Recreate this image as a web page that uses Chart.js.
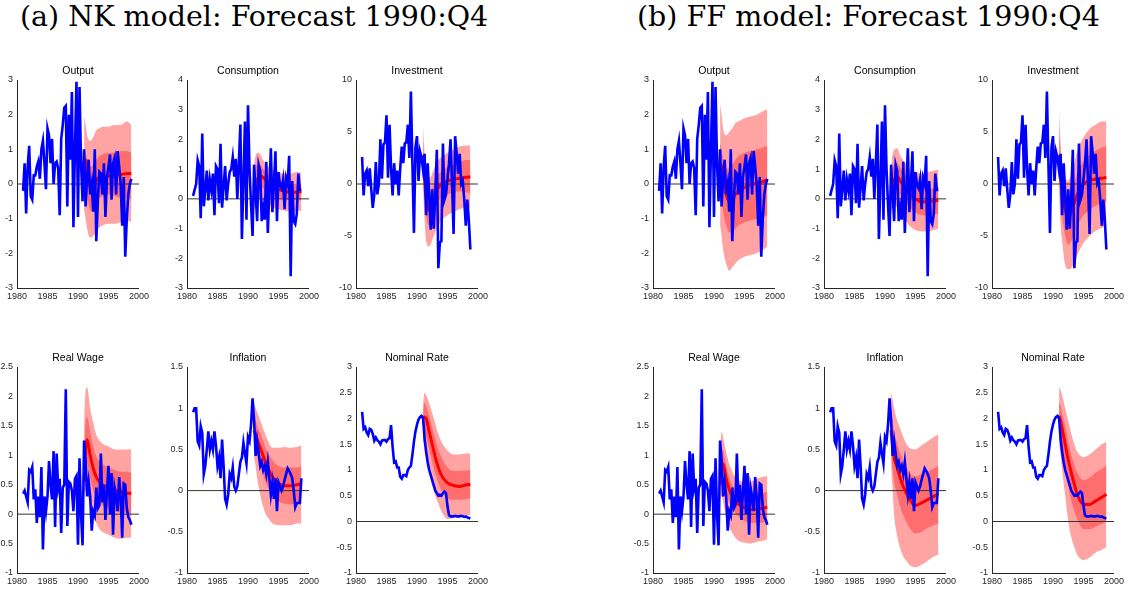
<!DOCTYPE html>
<html>
<head>
<meta charset="utf-8">
<script src="https://cdn.jsdelivr.net/npm/chart.js@4/dist/chart.umd.min.js"></script>
<style>
body { margin: 0; background: #fff; width: 1136px; height: 597px; position: relative; overflow: hidden; }
.hd { position: absolute; top: 0px; font-family: 'DejaVu Serif', serif; font-size: 28.5px; color: #000; white-space: nowrap; }
canvas { position: absolute; }
</style>
</head>
<body>
<div class="hd" style="left:20px">(a) NK model: Forecast 1990:Q4</div>
<div class="hd" style="left:637px">(b) FF model: Forecast 1990:Q4</div>
<script>
// quarterly observations 1981:Q1 - 1998:Q4
const quarters = [];
for (let y = 1981; y < 1999; y += 0.25) quarters.push(y);
const fcDates = [1991, 1991.25, 1991.5, 1992, 1992.5, 1993, 1993.5, 1994, 1995, 1996, 1997, 1998, 1998.75];

// actual data (blue)
const outputData = [-0.2, 0.6, -0.85, 0.5, 1.1, -0.35, -0.45, 0.25, 0.25, 0.5, 0.65, 0.15,
  1.0, 1.25, 0.6, -0.15, 1.6, 1.4, 0.6, 1.3, 0.0, 0.6, 0.65, 0.45,
  -0.9, 1.3, 1.7, 2.2, 2.25, -0.65, 2.0, 0.7, 2.65, -1.25, 1.0, 2.95,
  -0.95, 2.8, 0.6, -0.5, 1.0, -0.65, 0.2, 0.7, -0.3, 0.0, -0.8, 1.0,
  -1.65, -0.5, 0.35, 0.3, -0.3, 0.6, -0.95, 0.2, 0.5, 0.85, -0.45, 0.6,
  0.75, -0.3, 0.95, 0.5, 0.0, -1.2, 0.2, -2.1, -1.0, -0.3, 0.0, 0.15];
const consData = [0.1, 0.3, 0.5, 1.3, 1.1, -0.65, 2.2, -0.25, 0.3, 0.95, -0.05, 0.65,
  0.3, 0.85, -0.55, 1.1, 1.0, -0.15, 1.85, -0.3, 0.4, 1.1, -0.05, 0.5,
  0.9, 1.0, 1.4, 0.75, 1.35, 0.0, 1.2, 2.5, -1.35, 0.6, 2.6, -0.7,
  3.15, 1.0, -0.2, -1.25, 1.15, 0.2, -0.75, 1.15, 0.95, -0.75, -0.3, -0.7,
  1.25, -1.15, 0.3, 1.7, -0.45, 0.5, 1.6, -0.75, 0.9, 0.45, 0.35, 0.65,
  -0.35, 0.7, 0.5, 1.45, -2.6, 0.6, -0.75, -0.85, -0.5, 0.85, 0.3, 0.3];
const invData = [2.6, -1.1, 1.0, 1.3, -0.2, 1.5, -0.5, -2.3, -1.0, 2.1, -1.0, 0.0,
  4.3, 0.5, 3.8, 4.0, 6.6, 0.6, 5.7, 1.5, -1.1, 2.0, 0.0, 1.3,
  -1.1, 1.5, 3.6, 2.0, 3.9, 4.0, 5.7, 2.5, 8.9, 2.0, -4.7, 3.5,
  4.6, 0.3, 3.1, 2.5, 1.3, 2.9, -3.0, 2.0, -1.0, -4.4, -0.5, -4.3,
  -1.0, 3.3, -8.1, -5.6, -5.5, 3.9, -1.5, -1.0, 0.5, 2.0, 4.3, 0.0,
  -4.8, 4.6, 3.0, 1.0, 2.9, 0.0, 0.3, -1.5, -4.0, -1.5, -3.5, -6.3];
const wageData = [0.35, 0.4, 0.3, 0.2, 0.75, 0.72, 0.8, 0.25, 0.42, -0.15, 0.3, -0.05,
  0.8, -0.6, 0.3, 0.05, 0.3, 0.9, 0.5, 0.25, 1.07, -0.22, 1.03, 0.45,
  0.6, -0.32, 0.45, 0.5, 2.12, -0.2, 0.55, 0.52, 0.4, 0.05, 0.6, 0.65,
  -0.52, 0.95, 0.0, -0.53, 1.25, 0.9, 0.3, 0.55, 0.3, -0.28, 0.05, -0.02,
  0.45, 0.1, 0.15, 1.03, 0.2, 0.5, -0.1, 0.4, 0.82, 0.0, 0.7, -0.35,
  0.45, 0.3, 0.05, 0.63, 0.3, -0.4, 0.52, 0.5, 0.1, -0.05, -0.1, -0.18];
const inflData = [0.95, 1.0, 1.0, 0.6, 0.55, 0.78, 0.7, 0.2, 0.3, 0.5, 0.72, 0.5,
  0.6, 0.5, 0.72, 0.55, 0.3, 0.4, 0.15, 0.62, 0.3, -0.1, -0.17, -0.05,
  0.2, 0.15, 0.28, 0.05, 0.0, 0.05, 0.2, 0.35, 0.4, 0.58, 0.45, 0.33,
  0.65, 0.6, 0.8, 1.12, 0.85, 0.42, 0.6, 0.45, 0.3, 0.35, 0.25, 0.3,
  0.2, 0.35, 0.15, -0.05, 0.1, -0.1, 0.15, -0.25, 0.1, 0.05, 0.0, 0.05,
  0.13, 0.2, 0.27, 0.24, 0.2, 0.15, 0.0, -0.2, -0.15, -0.15, -0.15, 0.15];
const rateData = [2.13, 1.8, 1.83, 1.73, 1.68, 1.8, 1.78, 1.7, 1.57, 1.63, 1.58, 1.55,
  1.5, 1.57, 1.58, 1.58, 1.55, 1.6, 1.62, 1.87, 1.45, 1.15, 1.17, 1.05,
  1.05, 0.87, 0.83, 0.9, 0.9, 0.88, 1.0, 1.05, 1.08, 1.3, 1.55, 1.75,
  1.88, 1.98, 2.03, 2.05, 2.0, 1.6, 1.35, 1.15, 1.0, 0.9, 0.8, 0.7,
  0.6, 0.55, 0.5, 0.52, 0.5, 0.55, 0.58, 0.55, 0.3, 0.12, 0.1, 0.1,
  0.1, 0.11, 0.1, 0.1, 0.1, 0.11, 0.1, 0.09, 0.1, 0.08, 0.07, 0.06];

// NK forecasts: mean, inner band, outer band
const nkOutputMean  = [0.65, 0.7, 0.4, -0.1, -0.1, 0.12, 0.18, 0.2, 0.23, 0.26, 0.27, 0.3, 0.3];
const nkOutputInLo  = [0.3, 0.1, -0.3, -0.75, -0.8, -0.5, -0.4, -0.35, -0.3, -0.35, -0.4, -0.4, -0.45];
const nkOutputInHi  = [1.0, 0.9, 0.7, 0.5, 0.55, 0.7, 0.8, 0.85, 0.9, 0.9, 0.95, 0.95, 0.9];
const nkOutputOutLo = [-0.75, -1.0, -1.3, -1.55, -1.5, -1.35, -1.25, -1.2, -1.15, -1.15, -1.1, -1.05, -1.1];
const nkOutputOutHi = [1.95, 1.7, 1.4, 1.25, 1.35, 1.55, 1.6, 1.65, 1.65, 1.7, 1.7, 1.8, 1.7];

const nkConsMean  = [0.2, 0.45, 0.65, 0.78, 0.72, 0.62, 0.52, 0.43, 0.32, 0.26, 0.22, 0.22, 0.25];
const nkConsInLo  = [-0.1, 0.1, 0.3, 0.4, 0.35, 0.3, 0.2, 0.15, 0.05, 0.0, -0.05, -0.05, -0.05];
const nkConsInHi  = [0.75, 1.05, 1.15, 1.15, 1.0, 0.9, 0.78, 0.7, 0.6, 0.55, 0.5, 0.5, 0.5];
const nkConsOutLo = [-0.35, -0.2, -0.05, 0.0, -0.05, -0.15, -0.2, -0.28, -0.35, -0.4, -0.42, -0.4, -0.4];
const nkConsOutHi = [1.2, 1.45, 1.55, 1.5, 1.3, 1.15, 1.05, 0.98, 0.9, 0.85, 0.85, 0.9, 0.88];

const nkInvMean  = [2.8, 0.5, -1.5, -2.55, -1.8, -0.9, -0.35, 0.0, 0.3, 0.45, 0.55, 0.65, 0.7];
const nkInvInLo  = [1.5, -0.9, -3.0, -4.0, -3.3, -2.3, -1.7, -1.3, -1.0, -0.8, -0.7, -0.8, -0.9];
const nkInvInHi  = [4.0, 1.8, 0.0, -1.1, -0.4, 0.3, 0.9, 1.2, 1.6, 1.9, 2.1, 2.3, 2.3];
const nkInvOutLo = [-0.5, -3.5, -5.5, -6.0, -5.4, -4.6, -4.0, -3.5, -3.0, -2.7, -2.4, -2.3, -2.3];
const nkInvOutHi = [5.5, 3.0, 1.5, 0.5, 1.0, 1.7, 2.3, 2.6, 3.0, 3.3, 3.6, 3.7, 3.7];

const nkWageMean  = [0.55, 1.1, 1.27, 1.0, 0.78, 0.63, 0.55, 0.5, 0.45, 0.41, 0.38, 0.36, 0.35];
const nkWageInLo  = [0.4, 0.75, 0.85, 0.6, 0.4, 0.28, 0.2, 0.15, 0.1, 0.05, 0.03, 0.02, 0.0];
const nkWageInHi  = [1.0, 1.55, 1.65, 1.4, 1.15, 0.98, 0.9, 0.85, 0.8, 0.75, 0.72, 0.72, 0.7];
const nkWageOutLo = [0.3, 0.4, 0.35, 0.15, -0.05, -0.15, -0.25, -0.3, -0.35, -0.4, -0.42, -0.4, -0.4];
const nkWageOutHi = [1.6, 2.1, 2.15, 1.8, 1.55, 1.35, 1.25, 1.2, 1.15, 1.1, 1.1, 1.1, 1.1];

const nkInflMean  = [0.73, 0.68, 0.62, 0.52, 0.42, 0.32, 0.24, 0.17, 0.09, 0.06, 0.06, 0.07, 0.08];
const nkInflInLo  = [0.55, 0.5, 0.45, 0.3, 0.18, 0.08, 0.0, -0.07, -0.13, -0.16, -0.17, -0.15, -0.14];
const nkInflInHi  = [0.9, 0.85, 0.78, 0.7, 0.6, 0.5, 0.43, 0.37, 0.3, 0.28, 0.28, 0.28, 0.3];
const nkInflOutLo = [0.4, 0.3, 0.15, -0.05, -0.2, -0.3, -0.35, -0.4, -0.42, -0.42, -0.42, -0.4, -0.4];
const nkInflOutHi = [1.07, 1.0, 0.95, 0.85, 0.75, 0.65, 0.57, 0.52, 0.52, 0.53, 0.52, 0.53, 0.55];

const nkRateMean  = [2.0, 2.03, 2.0, 1.75, 1.5, 1.25, 1.05, 0.9, 0.75, 0.7, 0.68, 0.71, 0.72];
const nkRateInLo  = [1.8, 1.75, 1.65, 1.4, 1.15, 0.92, 0.75, 0.6, 0.45, 0.42, 0.42, 0.43, 0.45];
const nkRateInHi  = [2.15, 2.3, 2.25, 2.05, 1.82, 1.6, 1.4, 1.25, 1.05, 0.98, 0.98, 0.99, 1.0];
const nkRateOutLo = [1.55, 1.5, 1.35, 1.0, 0.7, 0.5, 0.35, 0.2, 0.05, 0.07, 0.12, 0.12, 0.12];
const nkRateOutHi = [2.3, 2.5, 2.45, 2.3, 2.1, 1.9, 1.7, 1.55, 1.38, 1.3, 1.3, 1.32, 1.32];

// FF forecasts
const ffOutputMean  = [0.55, 0.55, 0.2, -0.3, -0.5, -0.45, -0.3, -0.2, -0.1, -0.02, 0.02, 0.07, 0.12];
const ffOutputInLo  = [-0.2, -0.4, -0.8, -1.2, -1.4, -1.4, -1.3, -1.2, -1.1, -1.05, -1.0, -0.95, -0.9];
const ffOutputInHi  = [1.2, 1.0, 0.7, 0.45, 0.45, 0.55, 0.7, 0.8, 0.9, 0.95, 1.0, 1.05, 1.1];
const ffOutputOutLo = [-1.2, -1.5, -1.9, -2.3, -2.5, -2.4, -2.3, -2.2, -2.1, -2.05, -2.0, -1.9, -1.8];
const ffOutputOutHi = [2.3, 2.0, 1.6, 1.4, 1.5, 1.6, 1.75, 1.8, 1.9, 1.95, 2.0, 2.1, 2.15];

const ffConsMean  = [0.2, 0.45, 0.65, 0.75, 0.6, 0.45, 0.3, 0.17, 0.0, -0.1, -0.1, -0.07, -0.05];
const ffConsInLo  = [-0.1, 0.05, 0.2, 0.25, 0.12, -0.02, -0.15, -0.28, -0.45, -0.55, -0.55, -0.52, -0.5];
const ffConsInHi  = [0.75, 1.0, 1.15, 1.2, 1.05, 0.9, 0.75, 0.6, 0.45, 0.38, 0.35, 0.35, 0.4];
const ffConsOutLo = [-0.4, -0.3, -0.2, -0.3, -0.45, -0.6, -0.75, -0.9, -1.05, -1.1, -1.1, -1.05, -1.0];
const ffConsOutHi = [1.1, 1.5, 1.65, 1.7, 1.45, 1.3, 1.15, 1.0, 0.9, 0.85, 0.9, 0.95, 1.0];

const ffInvMean  = [2.8, 0.8, -0.8, -2.5, -3.2, -2.7, -1.8, -1.0, 0.0, 0.35, 0.45, 0.55, 0.65];
const ffInvInLo  = [0.5, -1.7, -3.0, -5.0, -5.8, -5.5, -4.8, -4.0, -3.0, -2.5, -2.1, -1.9, -1.8];
const ffInvInHi  = [5.0, 2.5, 0.8, -0.8, -1.2, -0.7, 0.2, 1.0, 2.2, 2.8, 3.2, 3.5, 3.6];
const ffInvOutLo = [-1.0, -4.0, -5.5, -7.8, -8.2, -8.1, -7.5, -6.8, -5.7, -5.0, -4.5, -4.2, -4.0];
const ffInvOutHi = [7.0, 4.0, 2.0, 0.7, 0.3, 1.0, 2.0, 3.2, 4.5, 5.3, 5.7, 6.0, 6.0];

const ffWageMean  = [0.5, 0.85, 0.85, 0.6, 0.42, 0.3, 0.22, 0.17, 0.11, 0.08, 0.08, 0.1, 0.12];
const ffWageInLo  = [0.35, 0.6, 0.6, 0.38, 0.2, 0.1, 0.02, -0.04, -0.12, -0.15, -0.15, -0.14, -0.13];
const ffWageInHi  = [0.75, 1.1, 1.08, 0.82, 0.63, 0.5, 0.42, 0.37, 0.32, 0.3, 0.32, 0.36, 0.38];
const ffWageOutLo = [0.25, 0.3, 0.2, -0.05, -0.22, -0.32, -0.4, -0.45, -0.48, -0.5, -0.47, -0.45, -0.43];
const ffWageOutHi = [1.1, 1.4, 1.3, 1.05, 0.85, 0.72, 0.62, 0.58, 0.55, 0.55, 0.6, 0.63, 0.65];

const ffInflMean  = [0.73, 0.55, 0.4, 0.28, 0.15, 0.05, -0.03, -0.1, -0.18, -0.15, -0.11, -0.07, -0.04];
const ffInflInLo  = [0.5, 0.25, 0.1, -0.05, -0.2, -0.3, -0.38, -0.45, -0.52, -0.5, -0.45, -0.42, -0.4];
const ffInflInHi  = [0.95, 0.85, 0.7, 0.58, 0.45, 0.35, 0.28, 0.22, 0.17, 0.2, 0.23, 0.27, 0.3];
const ffInflOutLo = [0.3, 0.0, -0.3, -0.55, -0.7, -0.8, -0.85, -0.9, -0.93, -0.9, -0.85, -0.8, -0.78];
const ffInflOutHi = [1.2, 1.1, 1.0, 0.85, 0.75, 0.65, 0.57, 0.52, 0.5, 0.55, 0.6, 0.65, 0.68];

const ffRateMean  = [2.05, 1.95, 1.8, 1.5, 1.2, 0.95, 0.72, 0.52, 0.33, 0.33, 0.4, 0.47, 0.53];
const ffRateInLo  = [1.8, 1.6, 1.4, 1.05, 0.7, 0.4, 0.2, 0.05, -0.15, -0.15, -0.1, -0.05, 0.0];
const ffRateInHi  = [2.3, 2.25, 2.1, 1.85, 1.55, 1.3, 1.1, 0.95, 0.8, 0.85, 0.95, 1.02, 1.1];
const ffRateOutLo = [1.5, 1.3, 1.0, 0.5, 0.0, -0.3, -0.5, -0.65, -0.75, -0.7, -0.6, -0.55, -0.5];
const ffRateOutHi = [2.6, 2.55, 2.45, 2.2, 1.95, 1.7, 1.5, 1.35, 1.25, 1.3, 1.4, 1.5, 1.55];

const innerColor = '#ff6e6e';
const outerColor = '#ffa3a3';
const axisFont = { family: "'Liberation Sans Narrow', 'Liberation Sans', Arial, sans-serif", size: 9 };

const panels = [
  { title: 'Output',       x: 17,  y: 80,  h: 208, min: -3,  max: 3,   step: 1,   actual: outputData, fc: [nkOutputMean, nkOutputInLo, nkOutputInHi, nkOutputOutLo, nkOutputOutHi] },
  { title: 'Consumption',  x: 187, y: 80,  h: 208, min: -3,  max: 4,   step: 1,   actual: consData,   fc: [nkConsMean, nkConsInLo, nkConsInHi, nkConsOutLo, nkConsOutHi] },
  { title: 'Investment',   x: 356, y: 80,  h: 208, min: -10, max: 10,  step: 5,   actual: invData,    fc: [nkInvMean, nkInvInLo, nkInvInHi, nkInvOutLo, nkInvOutHi] },
  { title: 'Real Wage',    x: 17,  y: 367, h: 206, min: -1,  max: 2.5, step: 0.5, actual: wageData,   fc: [nkWageMean, nkWageInLo, nkWageInHi, nkWageOutLo, nkWageOutHi] },
  { title: 'Inflation',    x: 187, y: 367, h: 206, min: -1,  max: 1.5, step: 0.5, actual: inflData,   fc: [nkInflMean, nkInflInLo, nkInflInHi, nkInflOutLo, nkInflOutHi] },
  { title: 'Nominal Rate', x: 356, y: 367, h: 206, min: -1,  max: 3,   step: 0.5, actual: rateData,   fc: [nkRateMean, nkRateInLo, nkRateInHi, nkRateOutLo, nkRateOutHi] },
  { title: 'Output',       x: 653, y: 80,  h: 208, min: -3,  max: 3,   step: 1,   actual: outputData, fc: [ffOutputMean, ffOutputInLo, ffOutputInHi, ffOutputOutLo, ffOutputOutHi] },
  { title: 'Consumption',  x: 824, y: 80,  h: 208, min: -3,  max: 4,   step: 1,   actual: consData,   fc: [ffConsMean, ffConsInLo, ffConsInHi, ffConsOutLo, ffConsOutHi] },
  { title: 'Investment',   x: 992, y: 80,  h: 208, min: -10, max: 10,  step: 5,   actual: invData,    fc: [ffInvMean, ffInvInLo, ffInvInHi, ffInvOutLo, ffInvOutHi] },
  { title: 'Real Wage',    x: 653, y: 367, h: 206, min: -1,  max: 2.5, step: 0.5, actual: wageData,   fc: [ffWageMean, ffWageInLo, ffWageInHi, ffWageOutLo, ffWageOutHi] },
  { title: 'Inflation',    x: 824, y: 367, h: 206, min: -1,  max: 1.5, step: 0.5, actual: inflData,   fc: [ffInflMean, ffInflInLo, ffInflInHi, ffInflOutLo, ffInflOutHi] },
  { title: 'Nominal Rate', x: 992, y: 367, h: 206, min: -1,  max: 3,   step: 0.5, actual: rateData,   fc: [ffRateMean, ffRateInLo, ffRateInHi, ffRateOutLo, ffRateOutHi] }
];

function series(xs, ys) {
  return xs.map((x, i) => ({ x: x, y: ys[i] }));
}

// panel title drawn above the plot area
const panelTitle = {
  id: 'panelTitle',
  afterDraw(chart, args, opts) {
    const a = chart.chartArea;
    const ctx = chart.ctx;
    ctx.save();
    ctx.font = "10.5px 'Liberation Sans Narrow', 'Liberation Sans', Arial, sans-serif";
    ctx.fillStyle = '#000';
    ctx.textAlign = 'center';
    ctx.textBaseline = 'middle';
    ctx.fillText(opts.text, (a.left + a.right) / 2, a.top - 9);
    ctx.restore();
  }
};

const LEFT = 26, TOP = 18, RIGHT = 8, BOTTOM = 16, PW = 127;

panels.forEach(p => {
  const cv = document.createElement('canvas');
  cv.width = LEFT + PW + RIGHT;
  cv.height = TOP + p.h + BOTTOM;
  cv.style.left = (p.x - LEFT) + 'px';
  cv.style.top = (p.y - TOP) + 'px';
  document.body.appendChild(cv);

  const band = { borderColor: 'rgba(0,0,0,0)', borderWidth: 0, pointRadius: 0, cubicInterpolationMode: 'monotone' };

  new Chart(cv, {
    type: 'line',
    data: {
      datasets: [
        { data: series(quarters, p.actual), borderColor: '#0000ff', borderWidth: 2.6, pointRadius: 0, order: 0 },
        { data: series(fcDates, p.fc[0]), borderColor: '#ff0000', borderWidth: 3, pointRadius: 0, cubicInterpolationMode: 'monotone', order: 1 },
        { data: [{ x: 1980, y: 0 }, { x: 2000, y: 0 }], borderColor: '#333333', borderWidth: 1, pointRadius: 0, order: 2 },
        Object.assign({ data: series(fcDates, p.fc[2]), fill: '+1', backgroundColor: innerColor, order: 3 }, band),
        Object.assign({ data: series(fcDates, p.fc[1]), fill: false, order: 3 }, band),
        Object.assign({ data: series(fcDates, p.fc[4]), fill: '+1', backgroundColor: outerColor, order: 4 }, band),
        Object.assign({ data: series(fcDates, p.fc[3]), fill: false, order: 4 }, band)
      ]
    },
    options: {
      responsive: false,
      animation: false,
      layout: { padding: { top: TOP, right: RIGHT, left: 0, bottom: 0 } },
      plugins: {
        legend: { display: false },
        tooltip: { enabled: false },
        panelTitle: { text: p.title }
      },
      scales: {
        x: {
          type: 'linear',
          min: 1980,
          max: 2000,
          grid: { display: false, drawTicks: false },
          border: { display: true, color: '#262626', width: 1 },
          ticks: { stepSize: 5, autoSkip: false, maxRotation: 0, padding: 3, color: '#262626', font: axisFont, callback: v => String(v) },
          afterFit: s => { s.height = BOTTOM; }
        },
        y: {
          min: p.min,
          max: p.max,
          grid: { display: false, drawTicks: false },
          border: { display: true, color: '#262626', width: 1 },
          ticks: { stepSize: p.step, autoSkip: false, padding: 4, color: '#262626', font: axisFont, callback: v => String(Math.round(v * 10) / 10) },
          afterFit: s => { s.width = LEFT; }
        }
      }
    },
    plugins: [panelTitle]
  });
});
</script>
</body>
</html>
